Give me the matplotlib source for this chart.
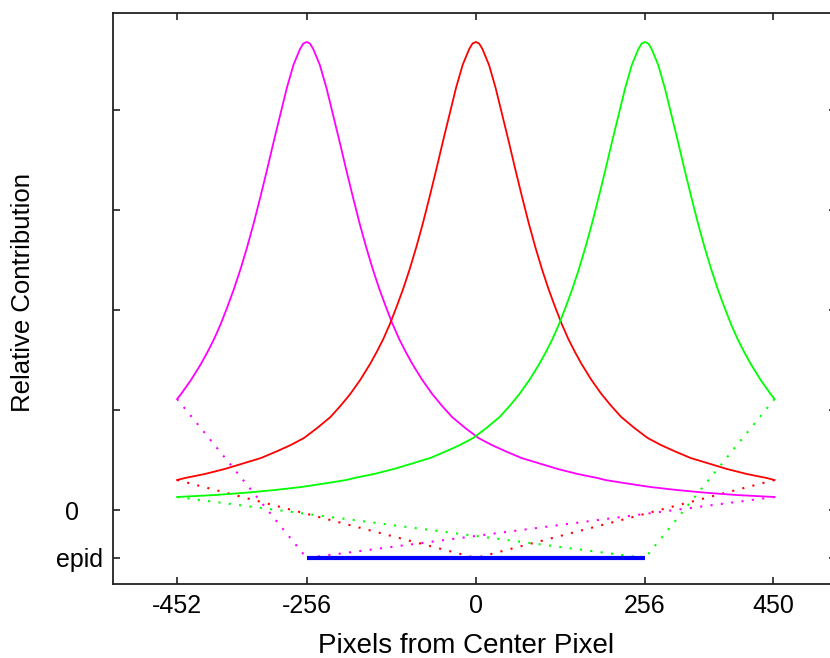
import matplotlib
matplotlib.use("Agg")
import matplotlib.pyplot as plt
from matplotlib.transforms import ScaledTranslation

plt.rcParams['font.family'] = ['Liberation Sans', 'DejaVu Sans']

# ---- data ----
EPID = -0.48

red_x = [-452, -440, -410, -380, -350, -325, -300, -280, -260, -240, -220, -205,
         -190, -175, -160, -150, -140, -130, -120, -110, -100, -90, -80, -70,
         -60, -50, -40, -30, -20, -10, -5, 0, 5, 10, 20, 30, 40, 50, 60, 70, 80,
         90, 100, 110, 120, 130, 140, 150, 160, 175, 190, 205, 220, 240, 260,
         280, 300, 325, 350, 380, 410, 440, 452]
red_y = [0.30, 0.32, 0.36, 0.41, 0.47, 0.52, 0.59, 0.65, 0.72, 0.82, 0.93, 1.04,
         1.16, 1.30, 1.46, 1.58, 1.71, 1.86, 2.03, 2.21, 2.41, 2.63, 2.87, 3.13,
         3.40, 3.68, 3.95, 4.22, 4.45, 4.61, 4.665, 4.68, 4.665, 4.61, 4.45,
         4.22, 3.95, 3.68, 3.40, 3.13, 2.87, 2.63, 2.41, 2.21, 2.03, 1.86, 1.71,
         1.58, 1.46, 1.30, 1.16, 1.04, 0.93, 0.82, 0.72, 0.65, 0.59, 0.52, 0.47,
         0.41, 0.36, 0.32, 0.30]

mag_x = [-452, -446, -431, -416, -406, -396, -386, -376, -366, -356, -346, -336,
         -326, -316, -306, -296, -286, -276, -266, -261, -256, -251, -246, -236,
         -226, -216, -206, -196, -186, -176, -166, -156, -146, -136, -126, -116,
         -106, -96, -81, -66, -51, -36, -16, 4, 24, 44, 69, 94, 124, 154, 184,
         196, 224, 264, 304, 344, 394, 452]
mag_y = [1.11, 1.16, 1.30, 1.46, 1.58, 1.71, 1.86, 2.03, 2.21, 2.41, 2.63, 2.87,
         3.13, 3.40, 3.68, 3.95, 4.22, 4.45, 4.61, 4.665, 4.68, 4.665, 4.61,
         4.45, 4.22, 3.95, 3.68, 3.40, 3.13, 2.87, 2.63, 2.41, 2.21, 2.03, 1.86,
         1.71, 1.58, 1.46, 1.30, 1.16, 1.04, 0.93, 0.82, 0.72, 0.65, 0.59, 0.52,
         0.47, 0.41, 0.36, 0.32, 0.30, 0.27, 0.23, 0.20, 0.175, 0.15, 0.13]

grn_x = [-452, -394, -344, -304, -264, -224, -196, -184, -154, -124, -94, -69,
         -44, -24, -4, 16, 36, 51, 66, 81, 96, 106, 116, 126, 136, 146, 156,
         166, 176, 186, 196, 206, 216, 226, 236, 246, 251, 256, 261, 266, 276,
         286, 296, 306, 316, 326, 336, 346, 356, 366, 376, 386, 396, 406, 416,
         431, 446, 452]
grn_y = [0.13, 0.15, 0.175, 0.20, 0.23, 0.27, 0.30, 0.32, 0.36, 0.41, 0.47,
         0.52, 0.59, 0.65, 0.72, 0.82, 0.93, 1.04, 1.16, 1.30, 1.46, 1.58, 1.71,
         1.86, 2.03, 2.21, 2.41, 2.63, 2.87, 3.13, 3.40, 3.68, 3.95, 4.22, 4.45,
         4.61, 4.665, 4.68, 4.665, 4.61, 4.45, 4.22, 3.95, 3.68, 3.40, 3.13,
         2.87, 2.63, 2.41, 2.21, 2.03, 1.86, 1.71, 1.58, 1.46, 1.30, 1.16, 1.11]

# projection rays (dotted): endpoints of each curve to its epid pixel
mag_ray_x = [[-452, -256], [452, -256]]
mag_ray_y = [[1.11, EPID], [0.13, EPID]]
red_ray_x = [[-452, 0], [452, 0]]
red_ray_y = [[0.30, EPID], [0.30, EPID]]
grn_ray_x = [[-452, 256], [452, 256]]
grn_ray_y = [[0.13, EPID], [1.11, EPID]]

epid_x = [-256, 256]
epid_y = [EPID, EPID]

xticks = [-452, -256, 0, 256, 450]
xtick_labels = ['-452', '-256', '0', '256', '450']
yticks = [EPID, 0, 1, 2, 3, 4]
ytick_labels = ['epid', '0', '', '', '', '']

MAG = (1.0, 0.0, 1.0)
RED = (1.0, 0.0, 0.0)
GRN = (0.0, 1.0, 0.0)
BLU = (0.0, 0.0, 1.0)

fig = plt.figure(figsize=(8.30, 6.58), dpi=100)
ax = fig.add_axes([113/830, 1-584/658, (836-113)/830, (584-13)/658])

dots = (0, (1, 4))
for xs, ys in zip(mag_ray_x, mag_ray_y):
    ax.plot(xs, ys, color=MAG, lw=1.5, linestyle=dots)
for xs, ys in zip(red_ray_x, red_ray_y):
    ax.plot(xs, ys, color=RED, lw=1.5, linestyle=dots)
for xs, ys in zip(grn_ray_x, grn_ray_y):
    ax.plot(xs, ys, color=GRN, lw=1.5, linestyle=dots)

ax.plot(mag_x, mag_y, color=MAG, lw=1.3)
ax.plot(red_x, red_y, color=RED, lw=1.3)
ax.plot(grn_x, grn_y, color=GRN, lw=1.3)
ax.plot(epid_x, epid_y, color=BLU, lw=3.0, solid_capstyle='butt')

ax.set_xlim(-549, 545)
ax.set_ylim(-0.74, 4.97)
ax.set_xticks(xticks)
ax.set_xticklabels(xtick_labels)
ax.set_yticks(yticks)
ax.set_yticklabels(ytick_labels)
ax.tick_params(direction='in', length=5, width=1.2, top=True, right=True,
               labelsize=18, colors='#222222', labelcolor='black', pad=7)
for s in ax.spines.values():
    s.set_linewidth(1.3)
    s.set_color('#222222')

ax.set_xlabel('Pixels from Center Pixel', fontsize=20)
ax.set_ylabel('Relative Contribution', fontsize=18.5)
ax.xaxis.set_label_coords(0.488, -0.085)
ax.yaxis.set_label_coords(-0.108, 0.51)

# shift the "0" label left as in the reference
for lbl in ax.get_yticklabels():
    if lbl.get_text() == '0':
        lbl.set_transform(lbl.get_transform() +
                          ScaledTranslation(-0.24, 0, fig.dpi_scale_trans))

fig.savefig('out.png', dpi=100, facecolor='white')
